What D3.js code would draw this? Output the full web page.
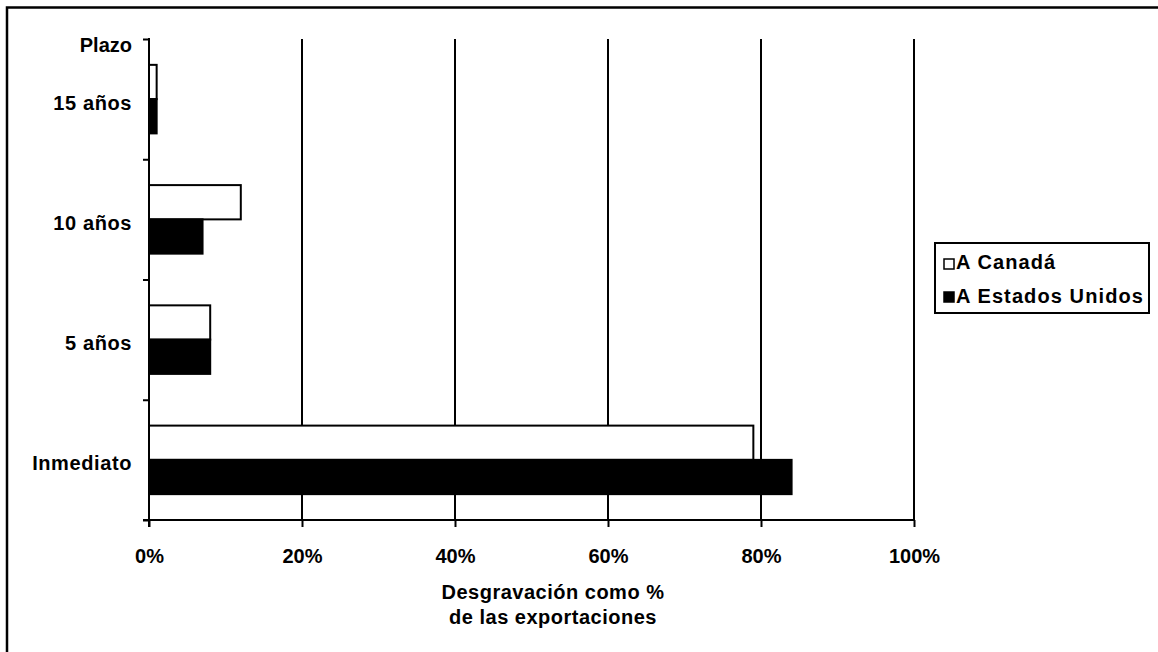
<!DOCTYPE html>
<html>
<head>
<meta charset="utf-8">
<script src="https://cdn.jsdelivr.net/npm/d3@7"></script>
<style>
  html, body { margin: 0; padding: 0; background: #fff; }
  svg { display: block; }
  text { font-family: "Liberation Sans", Arial, sans-serif; font-weight: bold; fill: #000; }
</style>
</head>
<body>
<svg id="chart" width="1158" height="652"></svg>
<script>
// ---- data ----
const categories = ["15 años", "10 años", "5 años", "Inmediato"];
const series = ["A Canadá", "A Estados Unidos"];
const canada = [0.01, 0.12, 0.08, 0.79];
const estadosUnidos = [0.01, 0.07, 0.08, 0.84];
const xTicks = [0, 0.2, 0.4, 0.6, 0.8, 1.0];
const axisTitle = ["Desgravación como %", "de las exportaciones"];
const topLabel = "Plazo";

(function () {
const values = [canada, estadosUnidos];
const fills = ["#fff", "#000"];

const svg = d3.select("#chart");

// outer frame (only left/top visible)
svg.append("rect").attr("x", 7).attr("y", 7.5).attr("width", 1300).attr("height", 800)
  .attr("fill", "none").attr("stroke", "#000").attr("stroke-width", 2.5);

const pLeft = 149, pRight = 914, pTop = 39, pBottom = 520;

const x = d3.scaleLinear().domain([0, 1]).range([pLeft, pRight]);
const y = d3.scaleBand().domain(categories).range([pTop, pBottom])
  .paddingInner(0.43).paddingOuter(0.215);
const ySub = d3.scaleBand().domain(series).range([0, y.bandwidth()]);
const yLin = d3.scaleLinear().domain([0, categories.length]).range([pBottom, pTop]);

// gridlines
svg.append("g").selectAll("line").data(xTicks.slice(1)).join("line")
  .attr("x1", d => x(d)).attr("x2", d => x(d))
  .attr("y1", pTop).attr("y2", pBottom)
  .attr("stroke", "#000").attr("stroke-width", 2);

// bars
categories.forEach((c, i) => {
  series.forEach((s, j) => {
    svg.append("rect")
      .attr("x", x(0))
      .attr("y", y(c) + ySub(s))
      .attr("width", x(values[j][i]) - x(0))
      .attr("height", ySub.bandwidth())
      .attr("fill", fills[j])
      .attr("stroke", "#000").attr("stroke-width", 2);
  });
});

// left axis (ticks at category boundaries)
const yAxis = d3.axisLeft(yLin).ticks(categories.length).tickSize(6).tickFormat("");
const gy = svg.append("g").attr("transform", `translate(${pLeft},0)`).call(yAxis);
gy.select(".domain").remove();
gy.selectAll(".tick line").attr("stroke", "#000").attr("stroke-width", 2);
svg.append("line").attr("x1", pLeft).attr("x2", pLeft).attr("y1", pTop - 1).attr("y2", pBottom + 7)
  .attr("stroke", "#000").attr("stroke-width", 2);

// bottom axis
const xAxis = d3.axisBottom(x).tickValues(xTicks).tickSize(7).tickFormat(d3.format(".0%"));
const gx = svg.append("g").attr("transform", `translate(0,${pBottom})`).call(xAxis);
gx.select(".domain").remove();
gx.selectAll(".tick line").attr("stroke", "#000").attr("stroke-width", 2);
gx.selectAll(".tick text").attr("y", 43).attr("dy", 0)
  .style("font-size", "20px").style("font-family", "'Liberation Sans', Arial, sans-serif")
  .style("font-weight", "bold");
svg.append("line").attr("x1", pLeft - 6).attr("x2", pRight + 1).attr("y1", pBottom).attr("y2", pBottom)
  .attr("stroke", "#000").attr("stroke-width", 2);

// category labels
svg.append("g").selectAll("text").data(categories).join("text")
  .attr("x", 132).attr("y", d => y(d) + y.bandwidth() / 2 + 10.5)
  .attr("text-anchor", "end").style("font-size", "20px").style("letter-spacing", "0.6px")
  .text(d => d);
svg.append("text").attr("x", 132).attr("y", pTop + 13).attr("text-anchor", "end")
  .style("font-size", "20px").text(topLabel);

// axis title
svg.append("g").selectAll("text").data(axisTitle).join("text")
  .attr("x", 553).attr("y", (d, i) => 599 + i * 25)
  .attr("text-anchor", "middle").style("font-size", "20px").style("letter-spacing", "0.5px")
  .text(d => d);

// legend
const lg = svg.append("g");
lg.append("rect").attr("x", 935).attr("y", 243).attr("width", 214).attr("height", 70)
  .attr("fill", "#fff").attr("stroke", "#000").attr("stroke-width", 2);
series.forEach((s, j) => {
  const cy = 264 + j * 33;
  lg.append("rect").attr("x", 944).attr("y", cy - 5).attr("width", 10).attr("height", 10)
    .attr("fill", fills[j]).attr("stroke", "#000").attr("stroke-width", 1.5);
  lg.append("text").attr("x", 956).attr("y", cy + 5 + (j ? 1 : 0))
    .style("font-size", "20px").style("letter-spacing", "1.1px").text(s);
});
})();
</script>
</body>
</html>
